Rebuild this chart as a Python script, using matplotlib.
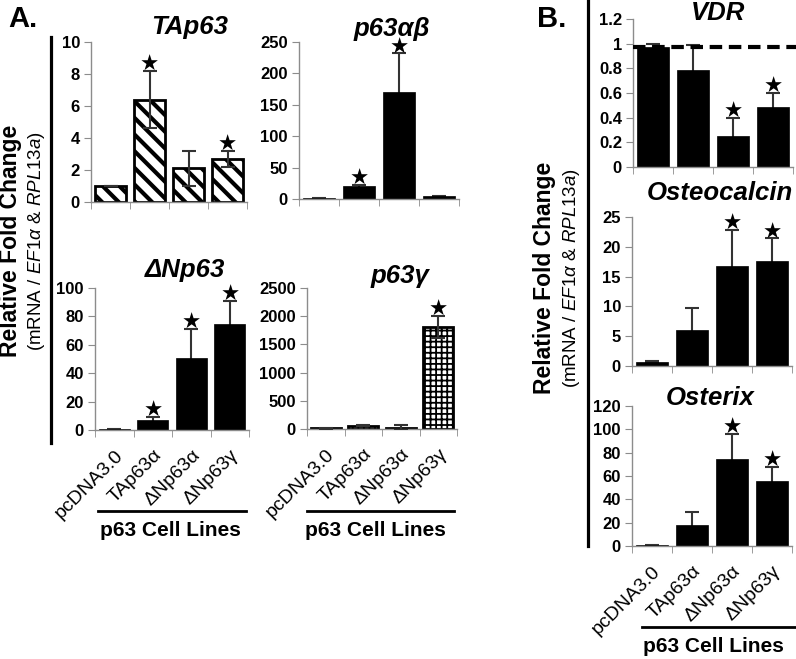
import matplotlib
matplotlib.use("Agg")
import matplotlib.pyplot as plt
import numpy as np
from matplotlib.lines import Line2D

plt.rcParams['font.family'] = ['Liberation Sans', 'DejaVu Sans']
plt.rcParams['mathtext.fontset'] = 'custom'
plt.rcParams['mathtext.it'] = 'Liberation Sans:italic'
plt.rcParams['mathtext.rm'] = 'Liberation Sans'

# Data
cell_lines = ["pcDNA3.0", "TAp63α", "ΔNp63α", "ΔNp63γ"]

tap63 = [1.0, 6.4, 2.1, 2.7]
tap63_err = [0.0, 1.8, 1.1, 0.5]
tap63_star = [False, True, False, True]

p63ab = [1.0, 20, 170, 4]
p63ab_err = [0.5, 3, 62, 1.5]
p63ab_star = [False, True, True, False]

dnp63 = [0.6, 7, 51, 75]
dnp63_err = [0.4, 2.5, 20, 16]
dnp63_star = [False, True, True, True]

p63g = [10, 60, 25, 1810]
p63g_err = [5, 10, 45, 200]
p63g_star = [False, False, False, True]

vdr = [0.97, 0.79, 0.25, 0.49]
vdr_err = [0.03, 0.2, 0.15, 0.11]
vdr_star = [False, False, True, True]
vdr_ref = 0.97

ocn = [0.7, 6.1, 16.7, 17.7]
ocn_err = [0.2, 3.7, 6.1, 3.7]
ocn_star = [False, False, True, True]

osx = [0.6, 18, 75, 56]
osx_err = [0.5, 11, 21, 12]
osx_star = [False, False, True, True]

W, H = 796, 659
fig = plt.figure(figsize=(W / 100, H / 100), dpi=100)


def px_axes(x0, x1, ytop, ybot):
    return fig.add_axes([x0 / W, 1 - ybot / H, (x1 - x0) / W, (ybot - ytop) / H])


def panel(ax, vals, errs, stars, ymax, step, hatch=None, hatch_lw=2.0,
          labels=False, fmt=None):
    x = np.arange(len(vals))
    if hatch:
        with plt.rc_context({'hatch.linewidth': hatch_lw}):
            ax.bar(x, vals, width=0.8, color='white', edgecolor='black',
                   linewidth=2, hatch=hatch, zorder=2)
        ez = 3
    else:
        ax.bar(x, vals, width=0.8, color='black', edgecolor='black',
               linewidth=0.5, zorder=2)
        ez = 1  # lower half hidden behind solid bars
    ax.errorbar(x, vals, yerr=errs, fmt='none', ecolor='#333333',
                elinewidth=1.5, capsize=5, capthick=1.5, zorder=ez)
    for i in range(len(vals)):
        if stars[i]:
            ax.annotate('★', (x[i], vals[i] + errs[i]), xytext=(0, -3),
                        textcoords='offset points', ha='center', va='bottom',
                        fontsize=15.5, family='DejaVu Sans', annotation_clip=False)
    ax.set_xlim(-0.5, len(vals) - 0.5)
    ax.set_ylim(0, ymax)
    ticks = np.arange(0, ymax + step / 2, step)
    ax.set_yticks(ticks)
    if fmt:
        ax.set_yticklabels([fmt(t) for t in ticks])
    for s in ['top', 'right']:
        ax.spines[s].set_visible(False)
    for s in ['left', 'bottom']:
        ax.spines[s].set_color('#8c8c8c')
        ax.spines[s].set_linewidth(1.0)
        ax.spines[s].set_zorder(2.5)
    ax.tick_params(axis='y', length=5, color='#8c8c8c', labelsize=12, pad=3)
    for t in ax.get_yticklabels():
        t.set_fontweight('bold')
    ax.set_xticks(np.arange(-0.5, len(vals), 1), minor=True)
    ax.tick_params(axis='x', which='minor', length=5, color='#8c8c8c')
    ax.set_xticks(x)
    ax.tick_params(axis='x', which='major', length=0)
    if labels:
        ax.set_xticklabels(cell_lines, rotation=45, ha='right',
                           rotation_mode='anchor', fontsize=14)
        ax.tick_params(axis='x', which='major', pad=12)
    else:
        ax.set_xticklabels([])


ax1 = px_axes(91, 247, 42, 202)
panel(ax1, tap63, tap63_err, tap63_star, 10, 2, hatch='\\\\', hatch_lw=3.0)
ax2 = px_axes(299, 459, 42, 199)
panel(ax2, p63ab, p63ab_err, p63ab_star, 250, 50)
ax3 = px_axes(95, 249, 288, 430)
panel(ax3, dnp63, dnp63_err, dnp63_star, 100, 20, labels=True)
ax4 = px_axes(307, 457, 288, 429)
panel(ax4, p63g, p63g_err, p63g_star, 2500, 500, hatch='+++', hatch_lw=1.3,
      labels=True)

ax5 = px_axes(633, 793, 19, 167)
panel(ax5, vdr, vdr_err, vdr_star, 1.2, 0.2,
      fmt=lambda t: f"{t:g}" if t in (0, 1) else f"{t:.1f}")
ax5.axhline(vdr_ref, xmin=0, xmax=1.03, color='black', lw=3,
            linestyle=(0, (3, 1.6)), clip_on=False, zorder=4)
ax6 = px_axes(632, 792, 217, 366)
panel(ax6, ocn, ocn_err, ocn_star, 25, 5)
ax7 = px_axes(632, 792, 406, 546)
panel(ax7, osx, osx_err, osx_star, 120, 20, labels=True)

# titles (baseline positions)
title_kw = dict(fontsize=18.5, fontweight='bold', fontstyle='italic',
                ha='center', va='baseline')
fig.text(190 / W, 1 - 34 / H, "TAp63", **title_kw)
fig.text(392 / W, 1 - 36 / H, "p63αβ", **title_kw)
fig.text(185 / W, 1 - 277 / H, "ΔNp63", **title_kw)
fig.text(400 / W, 1 - 283 / H, "p63γ", **title_kw)
fig.text(718 / W, 1 - 20 / H, "VDR", **title_kw)
fig.text(720 / W, 1 - 200 / H, "Osteocalcin", **title_kw)
fig.text(710 / W, 1 - 405 / H, "Osterix", **title_kw)

# panel letters
fig.text(8 / W, 1 - 19 / H, "A.", fontsize=21, fontweight='bold', va='center')
fig.text(537 / W, 1 - 19 / H, "B.", fontsize=21, fontweight='bold', va='center')

# vertical bars beside y labels
fig.add_artist(Line2D([51 / W, 51 / W], [1 - 37 / H, 1 - 443 / H], color='black', lw=2.3))
fig.add_artist(Line2D([588 / W, 588 / W], [1.0, 1 - 546 / H], color='black', lw=2.3))

# y labels
ylab = "(mRNA / $\\mathit{EF1α}$ & $\\mathit{RPL13a}$)"
fig.text(11 / W, 1 - 241 / H, "Relative Fold Change", rotation=90, fontsize=16.5,
         fontweight='bold', ha='center', va='center')
fig.text(37 / W, 1 - 241 / H, ylab, rotation=90, fontsize=13.5, ha='center', va='center')
fig.text(544 / W, 1 - 278 / H, "Relative Fold Change", rotation=90, fontsize=16.5,
         fontweight='bold', ha='center', va='center')
fig.text(572 / W, 1 - 278 / H, ylab, rotation=90, fontsize=13.5, ha='center', va='center')

# group underlines and labels
for x0, x1, y, xc, yt in [(98, 246, 511, 170, 531), (307, 454, 511, 375, 531),
                          (642, 795, 627, 713, 647)]:
    fig.add_artist(Line2D([x0 / W, x1 / W], [1 - y / H, 1 - y / H], color='black', lw=2))
    fig.text(xc / W, 1 - yt / H, "p63 Cell Lines", fontsize=15, fontweight='bold',
             ha='center', va='center')

fig.savefig("out.png", dpi=100)
